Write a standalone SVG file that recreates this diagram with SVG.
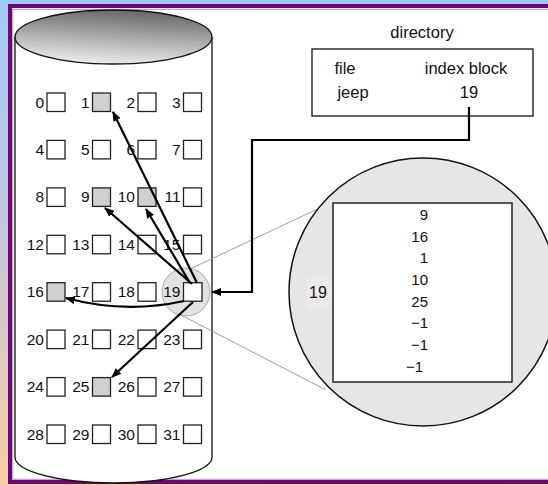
<svg xmlns="http://www.w3.org/2000/svg" width="548" height="485" viewBox="0 0 548 485">
  <defs>
    <linearGradient id="bg" x1="0" y1="0" x2="0" y2="1">
      <stop offset="0" stop-color="#9dcaf5"/>
      <stop offset="0.45" stop-color="#c4c6e4"/>
      <stop offset="1" stop-color="#f7cea0"/>
    </linearGradient>
    <linearGradient id="disk" x1="0.6" y1="0" x2="0.4" y2="1">
      <stop offset="0" stop-color="#666"/>
      <stop offset="0.5" stop-color="#aaa"/>
      <stop offset="1" stop-color="#eee"/>
    </linearGradient>
    <marker id="ah" markerUnits="userSpaceOnUse" markerWidth="10" markerHeight="8" refX="9" refY="4" orient="auto">
      <path d="M0,0 L10,4 L0,8 z" fill="#000"/>
    </marker>
    <style>
      text { font-family: "Liberation Sans", Arial, Helvetica, sans-serif; fill: #111; }
      .lbl { font-size: 15.5px; text-anchor: end; }
      .blk { fill: #fff; stroke: #222; stroke-width: 1.3; }
      .sh { fill: #d0d0d0; }
      .arr { fill: none; stroke: #000; stroke-width: 2.2; marker-end: url(#ah); }
      .thin { stroke: #888; stroke-width: 0.8; fill: none; }
      .dir { font-size: 16.5px; text-anchor: middle; }
      .idx { font-size: 15px; text-anchor: end; }
    </style>
  </defs>

  <!-- background & frame -->
  <rect x="0" y="0" width="548" height="485" fill="url(#bg)"/>
  <rect x="10" y="6" width="545" height="476" fill="#fff" stroke="#6a0c6e" stroke-width="4"/>
  <rect x="12.8" y="9.3" width="540" height="470" fill="none" stroke="#b888c8" stroke-width="1"/>

  <!-- disk cylinder -->
  <g id="disk">
    <path d="M15,37 V457 A98.5,26 0 0 0 212,457 V37" fill="#fff" stroke="#111" stroke-width="1.3"/>
    <ellipse cx="113.5" cy="37" rx="98.5" ry="27" fill="url(#disk)" stroke="#111" stroke-width="1.3"/>
  </g>

  <!-- magnifier lens around block 19 -->
  <circle id="lens" cx="186" cy="292" r="24" fill="#e2e2e2" stroke="#999" stroke-width="0.8"/>

  <!-- blocks -->
  <g id="blocks">
    <g id="b0"><text class="lbl" x="44" y="107.5">0</text><rect class="blk" x="47" y="93" width="18" height="18.5"/></g>
    <g id="b1"><text class="lbl" x="89.5" y="107.5">1</text><rect class="blk sh" x="92.5" y="93" width="18" height="18.5"/></g>
    <g id="b2"><text class="lbl" x="135" y="107.5">2</text><rect class="blk" x="138" y="93" width="18" height="18.5"/></g>
    <g id="b3"><text class="lbl" x="180.5" y="107.5">3</text><rect class="blk" x="183.5" y="93" width="18" height="18.5"/></g>

    <g id="b4"><text class="lbl" x="44" y="155">4</text><rect class="blk" x="47" y="140.4" width="18" height="18.5"/></g>
    <g id="b5"><text class="lbl" x="89.5" y="155">5</text><rect class="blk" x="92.5" y="140.4" width="18" height="18.5"/></g>
    <g id="b6"><text class="lbl" x="135" y="155">6</text><rect class="blk" x="138" y="140.4" width="18" height="18.5"/></g>
    <g id="b7"><text class="lbl" x="180.5" y="155">7</text><rect class="blk" x="183.5" y="140.4" width="18" height="18.5"/></g>

    <g id="b8"><text class="lbl" x="44" y="202.4">8</text><rect class="blk" x="47" y="187.9" width="18" height="18.5"/></g>
    <g id="b9"><text class="lbl" x="89.5" y="202.4">9</text><rect class="blk sh" x="92.5" y="187.9" width="18" height="18.5"/></g>
    <g id="b10"><text class="lbl" x="135" y="202.4">10</text><rect class="blk sh" x="138" y="187.9" width="18" height="18.5"/></g>
    <g id="b11"><text class="lbl" x="180.5" y="202.4">11</text><rect class="blk" x="183.5" y="187.9" width="18" height="18.5"/></g>

    <g id="b12"><text class="lbl" x="44" y="249.8">12</text><rect class="blk" x="47" y="235.3" width="18" height="18.5"/></g>
    <g id="b13"><text class="lbl" x="89.5" y="249.8">13</text><rect class="blk" x="92.5" y="235.3" width="18" height="18.5"/></g>
    <g id="b14"><text class="lbl" x="135" y="249.8">14</text><rect class="blk" x="138" y="235.3" width="18" height="18.5"/></g>
    <g id="b15"><text class="lbl" x="180.5" y="249.8">15</text><rect class="blk" x="183.5" y="235.3" width="18" height="18.5"/></g>

    <g id="b16"><text class="lbl" x="44" y="297.2">16</text><rect class="blk sh" x="47" y="282.7" width="18" height="18.5"/></g>
    <g id="b17"><text class="lbl" x="89.5" y="297.2">17</text><rect class="blk" x="92.5" y="282.7" width="18" height="18.5"/></g>
    <g id="b18"><text class="lbl" x="135" y="297.2">18</text><rect class="blk" x="138" y="282.7" width="18" height="18.5"/></g>
    <g id="b19"><text class="lbl" x="180.5" y="297.2">19</text><rect class="blk" x="183.5" y="282.7" width="18.5" height="18.5" stroke-width="1.8"/></g>

    <g id="b20"><text class="lbl" x="44" y="344.6">20</text><rect class="blk" x="47" y="330.1" width="18" height="18.5"/></g>
    <g id="b21"><text class="lbl" x="89.5" y="344.6">21</text><rect class="blk" x="92.5" y="330.1" width="18" height="18.5"/></g>
    <g id="b22"><text class="lbl" x="135" y="344.6">22</text><rect class="blk" x="138" y="330.1" width="18" height="18.5"/></g>
    <g id="b23"><text class="lbl" x="180.5" y="344.6">23</text><rect class="blk" x="183.5" y="330.1" width="18" height="18.5"/></g>

    <g id="b24"><text class="lbl" x="44" y="392.1">24</text><rect class="blk" x="47" y="377.6" width="18" height="18.5"/></g>
    <g id="b25"><text class="lbl" x="89.5" y="392.1">25</text><rect class="blk sh" x="92.5" y="377.6" width="18" height="18.5"/></g>
    <g id="b26"><text class="lbl" x="135" y="392.1">26</text><rect class="blk" x="138" y="377.6" width="18" height="18.5"/></g>
    <g id="b27"><text class="lbl" x="180.5" y="392.1">27</text><rect class="blk" x="183.5" y="377.6" width="18" height="18.5"/></g>

    <g id="b28"><text class="lbl" x="44" y="439.5">28</text><rect class="blk" x="47" y="425" width="18" height="18.5"/></g>
    <g id="b29"><text class="lbl" x="89.5" y="439.5">29</text><rect class="blk" x="92.5" y="425" width="18" height="18.5"/></g>
    <g id="b30"><text class="lbl" x="135" y="439.5">30</text><rect class="blk" x="138" y="425" width="18" height="18.5"/></g>
    <g id="b31"><text class="lbl" x="180.5" y="439.5">31</text><rect class="blk" x="183.5" y="425" width="18" height="18.5"/></g>
  </g>

  <!-- directory -->
  <g id="directory">
    <text class="dir" x="422" y="38">directory</text>
    <rect x="312" y="49" width="221" height="67" fill="#fff" stroke="#111" stroke-width="1.3"/>
    <text class="dir" x="345" y="74">file</text>
    <text class="dir" x="466" y="74">index block</text>
    <text class="dir" x="353" y="98">jeep</text>
    <text class="dir" x="469" y="98">19</text>
  </g>

  <!-- connectors -->
  <g id="connectors">
    <line class="thin" x1="190" y1="269" x2="322" y2="207"/>
    <line class="thin" x1="181" y1="315" x2="326" y2="390"/>
    <path class="arr" d="M197,283 L113,112"/>
    <path class="arr" d="M190,283 L146,209"/>
    <path class="arr" d="M192,284 L105,208"/>
    <path class="arr" d="M184,301 Q125,314 66,298"/>
    <path class="arr" d="M193,302 L112,377"/>
    <path class="arr" d="M469,107 V140 H252 V292 H212" stroke-width="2.5"/>
  </g>

  <!-- magnified index block -->
  <g id="index-block">
    <circle cx="423" cy="292" r="134" fill="#e6e6e6" stroke="#111" stroke-width="1.5"/>
    <rect x="307" y="277" width="25" height="31" fill="#ece8ec"/>
    <text x="318" y="298" style="font-size:16px;text-anchor:middle">19</text>
    <rect x="333" y="203" width="179" height="179" fill="#fff" stroke="#222" stroke-width="1.5"/>
    <text class="idx" x="428" y="220">9</text>
    <text class="idx" x="428" y="242">16</text>
    <text class="idx" x="428" y="263">1</text>
    <text class="idx" x="428" y="285">10</text>
    <text class="idx" x="428" y="307">25</text>
    <text class="idx" x="428" y="328">−1</text>
    <text class="idx" x="428" y="350">−1</text>
    <text class="idx" x="423" y="372">−1</text>
  </g>
</svg>
